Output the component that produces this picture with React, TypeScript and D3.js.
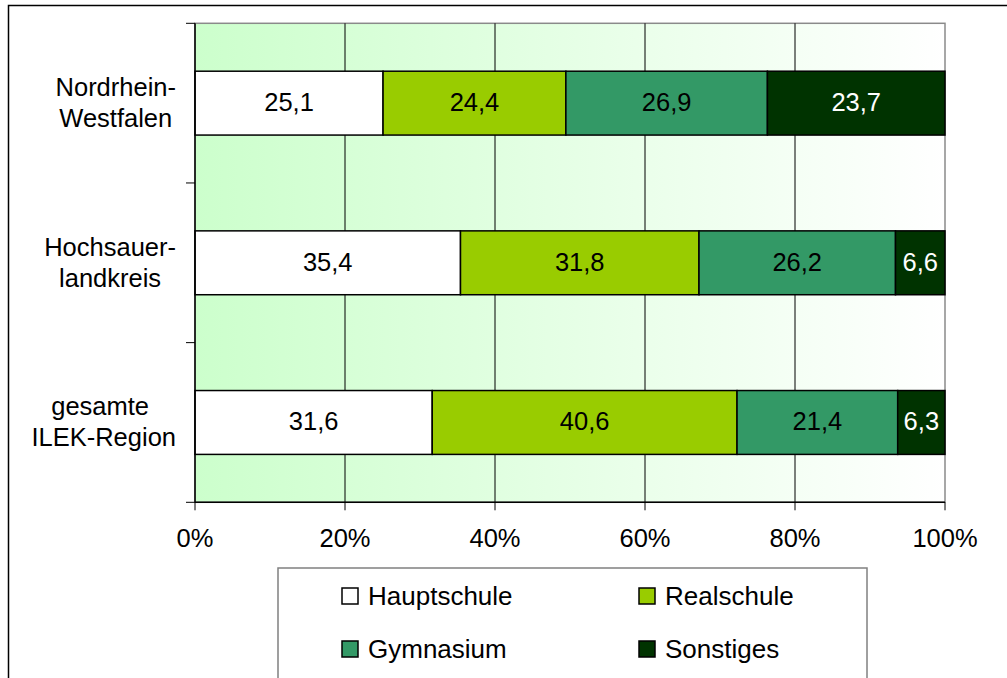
import React, { useMemo } from "react";
import * as d3 from "d3";

const categories = ["Nordrhein-Westfalen", "Hochsauerlandkreis", "gesamte ILEK-Region"];
const categoryLines = [
  ["Nordrhein-", "Westfalen"],
  ["Hochsauer-", "landkreis"],
  ["gesamte ", "ILEK-Region"],
];
const seriesNames = ["Hauptschule", "Realschule", "Gymnasium", "Sonstiges"];
const hauptschule = [25.1, 35.4, 31.6];
const realschule = [24.4, 31.8, 40.6];
const gymnasium = [26.9, 26.2, 21.4];
const sonstiges = [23.7, 6.6, 6.3];
const seriesColors = ["#ffffff", "#99cc00", "#339966", "#003300"];
const labelColors = ["#000000", "#000000", "#000000", "#ffffff"];
const xTicks = [0, 0.2, 0.4, 0.6, 0.8, 1];

const W = 1007;
const H = 678;
const FONT = "'Liberation Sans', Arial, sans-serif";
const FS = 25.5;
const LFS = 26;

function measure(text: string, size: number) {
  const c = document.createElement("canvas");
  const ctx = c.getContext("2d")!;
  ctx.font = `${size}px ${FONT}`;
  return ctx.measureText(text).width;
}

export default function App() {
  const left = 195, right = 945, top = 23.3, bottom = 502.3;
  const x = d3.scaleLinear().domain([0, 1]).range([left, right]);
  const y = d3.scaleBand<string>().domain(categories).range([top, bottom]).paddingInner(0.6).paddingOuter(0.3);

  const rows = categories.map((c, i) => ({
    cat: c,
    Hauptschule: hauptschule[i],
    Realschule: realschule[i],
    Gymnasium: gymnasium[i],
    Sonstiges: sonstiges[i],
  }));
  const stacked = d3.stack<any>().keys(seriesNames).offset(d3.stackOffsetExpand)(rows);
  const rawValues = [hauptschule, realschule, gymnasium, sonstiges];

  const step = (bottom - top) / categories.length;
  const boundaries = d3.range(categories.length + 1).map((i) => top + i * step);

  const fmt = (v: number) => v.toFixed(1).replace(".", ",");

  const labelRight = 176;
  const catLabels = useMemo(
    () =>
      categoryLines.map((lines) => {
        const widths = lines.map((l) => measure(l, FS));
        const maxW = Math.max(...widths);
        const center = labelRight - maxW / 2;
        return lines.map((l, j) => ({ text: l, x: center - widths[j] / 2 }));
      }),
    []
  );

  const legendItems = [
    { name: seriesNames[0], color: seriesColors[0], sx: 342, ty: 605 },
    { name: seriesNames[1], color: seriesColors[1], sx: 639, ty: 605 },
    { name: seriesNames[2], color: seriesColors[2], sx: 342, ty: 658 },
    { name: seriesNames[3], color: seriesColors[3], sx: 639, ty: 658 },
  ];

  return (
    <svg
      width={W}
      height={H}
      style={{ position: "absolute", left: 0, top: 0, background: "#fff" }}
      fontFamily={FONT}
    >
      <defs>
        <linearGradient id="bg" x1="0" x2="1" y1="0" y2="0">
          <stop offset="0" stopColor="#ccffcc" />
          <stop offset="1" stopColor="#ffffff" />
        </linearGradient>
      </defs>
      <rect x={0} y={0} width={W} height={H} fill="#fff" />
      <rect x={8.5} y={5.5} width={1200} height={900} fill="none" stroke="#000" strokeWidth={1.5} />

      {/* plot area */}
      <rect x={left} y={top} width={right - left} height={bottom - top} fill="url(#bg)" stroke="#8a8a8a" strokeWidth={1.5} />

      {/* grid lines */}
      {xTicks.slice(1, -1).map((t) => (
        <line key={t} x1={x(t)} x2={x(t)} y1={top} y2={bottom} stroke="#000" strokeWidth={1} />
      ))}

      {/* bars */}
      {stacked.map((s, si) =>
        s.map((d, ci) => {
          const x0 = x(d[0]);
          const x1 = x(d[1]);
          const yy = y(categories[ci])!;
          const bh = y.bandwidth();
          return (
            <g key={`${si}-${ci}`}>
              <rect x={x0} y={yy} width={x1 - x0} height={bh} fill={seriesColors[si]} stroke="#000" strokeWidth={1.5} />
              <text
                x={(x0 + x1) / 2}
                y={yy + bh / 2 + 8}
                textAnchor="middle"
                fontSize={FS}
                fill={labelColors[si]}
              >
                {fmt(rawValues[si][ci])}
              </text>
            </g>
          );
        })
      )}

      {/* y axis */}
      <line x1={left} x2={left} y1={top} y2={bottom} stroke="#000" strokeWidth={1.5} />
      {boundaries.map((b, i) => (
        <line key={i} x1={left - 9} x2={left} y1={b} y2={b} stroke="#000" strokeWidth={1} />
      ))}
      {/* x axis */}
      <line x1={left} x2={right} y1={bottom} y2={bottom} stroke="#000" strokeWidth={1.5} />
      {xTicks.map((t) => (
        <g key={t}>
          <line x1={x(t)} x2={x(t)} y1={bottom} y2={bottom + 8} stroke="#000" strokeWidth={1} />
          <text x={x(t)} y={547} textAnchor="middle" fontSize={FS} fill="#000">
            {`${Math.round(t * 100)}%`}
          </text>
        </g>
      ))}

      {/* category labels */}
      {categories.map((c, i) => {
        const cy = y(c)! + y.bandwidth() / 2;
        return (
          <g key={c}>
            {catLabels[i].map((l, j) => (
              <text key={j} x={l.x} y={cy - 7 + j * 31} fontSize={FS} fill="#000" style={{ whiteSpace: "pre" }}>
                {l.text}
              </text>
            ))}
          </g>
        );
      })}

      {/* legend */}
      <rect x={278} y={568} width={589} height={200} fill="#fff" stroke="#808080" strokeWidth={1.5} />
      {legendItems.map((it) => (
        <g key={it.name}>
          <rect x={it.sx} y={it.ty - 17} width={16} height={16} fill={it.color} stroke="#000" strokeWidth={1.5} />
          <text x={it.sx + 26} y={it.ty} fontSize={LFS} fill="#000">
            {it.name}
          </text>
        </g>
      ))}
    </svg>
  );
}
